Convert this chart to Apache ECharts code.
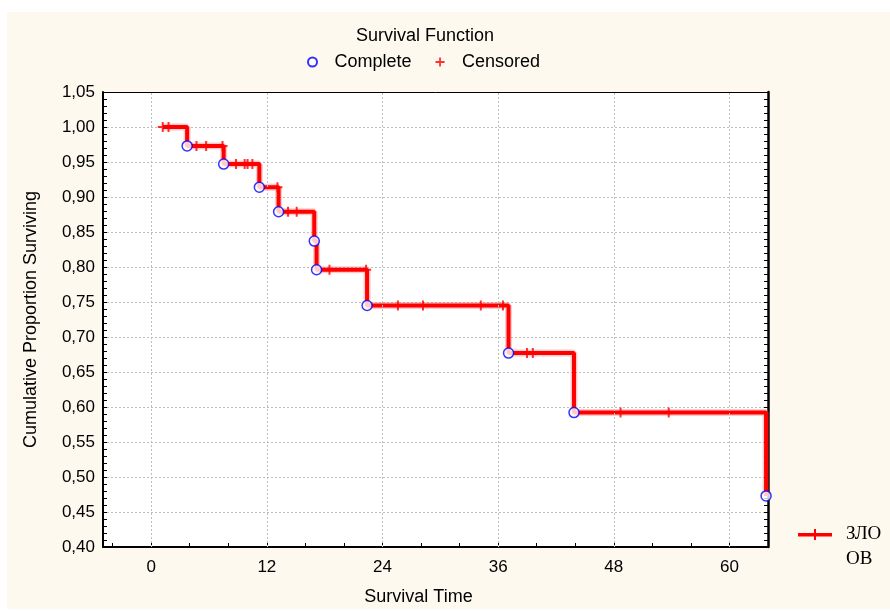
<!DOCTYPE html>
<html>
<head>
<meta charset="utf-8">
<script src="https://cdn.jsdelivr.net/npm/echarts@6/dist/echarts.min.js"></script>
<style>html,body{margin:0;padding:0;background:#fff}#c{width:890px;height:611px}</style>
</head>
<body>
<div id="c"></div>
<script>
// ---- data ----
const stepTimes = [1.2, 3.73, 7.52, 11.22, 13.22, 16.92, 17.16, 22.4, 37.08, 43.87, 63.8];
const stepSurv  = [1.0, 0.973, 0.947, 0.914, 0.879, 0.837, 0.796, 0.745, 0.677, 0.592, 0.473];
const completeTimes = [3.73, 7.52, 11.22, 13.22, 16.92, 17.16, 22.4, 37.08, 43.87, 63.8];
const completeSurv  = [0.973, 0.947, 0.914, 0.879, 0.837, 0.796, 0.745, 0.677, 0.592, 0.473];
const censorTimes = [1.2, 1.8, 4.7, 5.7, 7.4, 8.8, 9.7, 10.0, 10.5, 13.1, 14.2, 15.1, 18.5, 22.3, 25.6, 28.2, 34.2, 36.5, 39.0, 39.6, 48.7, 53.7];
const censorSurv  = [1.0, 1.0, 0.973, 0.973, 0.973, 0.947, 0.947, 0.947, 0.947, 0.914, 0.879, 0.879, 0.796, 0.796, 0.745, 0.745, 0.745, 0.745, 0.677, 0.677, 0.592, 0.592];
const xLabelValues = [0, 12, 24, 36, 48, 60];
const xTickValues = [-4, 0, 4, 8, 12, 16, 20, 24, 28, 32, 36, 40, 44, 48, 52, 56, 60];
const groupName = 'ЗЛООВ';
const titleText = 'Survival Function';
const xTitle = 'Survival Time';
const yTitle = 'Cumulative Proportion Surviving';

const zip = (a, b) => a.map((v, i) => [v, b[i]]);
const plusPath = 'path://M4,0h2v10h-2z M0,4h10v2h-10z';
const legendLinePath = 'path://M0,4h34v3.5h-34z M16,0h2v11h-2z';
const FONT = 'Liberation Sans, Arial, sans-serif';

const chart = echarts.init(document.getElementById('c'), null, {renderer: 'canvas'});
chart.setOption({
  animation: false,
  backgroundColor: '#ffffff',
  graphic: [{
    type: 'rect', z: -10, silent: true,
    shape: {x: 7, y: 12, width: 883, height: 597},
    style: {fill: '#fdf9ef'}
  }],
  title: {
    text: titleText, left: 420, top: 22, textAlign: 'center',
    textStyle: {fontFamily: FONT, fontSize: 18, fontWeight: 'normal', color: '#000'}
  },
  legend: [{
    data: ['Complete', 'Censored'],
    left: 302, top: 48, orient: 'horizontal',
    itemWidth: 34, itemHeight: 9, itemGap: 24,
    textStyle: {fontFamily: FONT, fontSize: 18, color: '#000'}
  }, {
    data: [{name: groupName, icon: legendLinePath}],
    left: 793, top: 492,
    itemWidth: 34, itemHeight: 11,
    formatter: () => ' \nЗЛО\nОВ',
    textStyle: {fontFamily: 'Liberation Serif, Times New Roman, serif', fontSize: 19, lineHeight: 25, color: '#000', padding: [0, 0, 0, 9]}
  }],
  grid: {left: 103, right: 122, top: 92, bottom: 63, show: true, backgroundColor: '#ffffff', borderWidth: 0},
  xAxis: [{
    type: 'value', min: -5, max: 64, position: 'bottom',
    name: xTitle, nameLocation: 'middle', nameGap: 41,
    nameTextStyle: {fontFamily: FONT, fontSize: 18, color: '#000', padding: [0, 34, 0, 0]},
    axisLine: {show: true, onZero: false, lineStyle: {color: '#000', width: 2}},
    axisTick: {show: true, inside: true, length: 4, customValues: xTickValues, lineStyle: {color: '#000', width: 1}},
    axisLabel: {customValues: xLabelValues, fontFamily: FONT, fontSize: 17, color: '#000', margin: 12},
    splitLine: {show: false}
  }, {
    type: 'value', min: -5, max: 64, position: 'top',
    axisLine: {show: true, onZero: false, lineStyle: {color: '#000', width: 1}},
    axisTick: {show: false}, axisLabel: {show: false}, splitLine: {show: false}
  }],
  yAxis: [{
    type: 'value', min: 0.40, max: 1.05, interval: 0.05, position: 'left',
    name: yTitle, nameLocation: 'middle', nameGap: 63, nameRotate: 90,
    nameTextStyle: {fontFamily: FONT, fontSize: 18, color: '#000'},
    axisLine: {show: true, onZero: false, lineStyle: {color: '#000', width: 2}},
    axisTick: {show: true, inside: true, length: 4, lineStyle: {color: '#000'}},
    minorTick: {show: true, splitNumber: 5, length: 4, lineStyle: {color: '#000'}},
    axisLabel: {fontFamily: FONT, fontSize: 17, color: '#000', margin: 8,
      formatter: v => v.toFixed(2).replace('.', ',')},
    splitLine: {show: true, lineStyle: {color: '#bdbdbd', type: [2, 2], width: 1}}
  }, {
    type: 'value', min: 0.40, max: 1.05, interval: 0.05, position: 'right',
    axisLine: {show: true, onZero: false, lineStyle: {color: '#000', width: 2.5}},
    axisTick: {show: true, inside: true, length: 4, lineStyle: {color: '#000'}},
    minorTick: {show: true, splitNumber: 5, length: 4, lineStyle: {color: '#000'}},
    axisLabel: {show: false}, splitLine: {show: false}
  }],
  series: [{
    name: 'grid-x', type: 'scatter', data: [], z: 1, silent: true,
    markLine: {
      silent: true, symbol: 'none', label: {show: false},
      lineStyle: {color: '#bdbdbd', type: [2, 2], width: 1},
      data: xLabelValues.map(v => ({xAxis: v}))
    }
  }, {
    name: 'halo', type: 'line', step: 'end', data: zip(stepTimes, stepSurv),
    showSymbol: false, symbol: 'none', silent: true, z: 2,
    lineStyle: {color: 'rgba(255,80,80,0.3)', width: 7}
  }, {
    name: groupName, type: 'line', step: 'end', data: zip(stepTimes, stepSurv),
    showSymbol: false, symbol: plusPath, symbolSize: 11, z: 3,
    itemStyle: {color: '#ff0000'},
    lineStyle: {color: '#ff0000', width: 4}
  }, {
    name: 'Censored', type: 'scatter', data: zip(censorTimes, censorSurv),
    symbol: plusPath, symbolSize: 10, z: 4,
    itemStyle: {color: '#ff0000'}
  }, {
    name: 'Complete', type: 'scatter', data: zip(completeTimes, completeSurv),
    symbol: 'circle', symbolSize: 10, z: 5,
    itemStyle: {color: '#ffffff', borderColor: '#0000ff', borderWidth: 1.5}
  }]
});
</script>
</body>
</html>
